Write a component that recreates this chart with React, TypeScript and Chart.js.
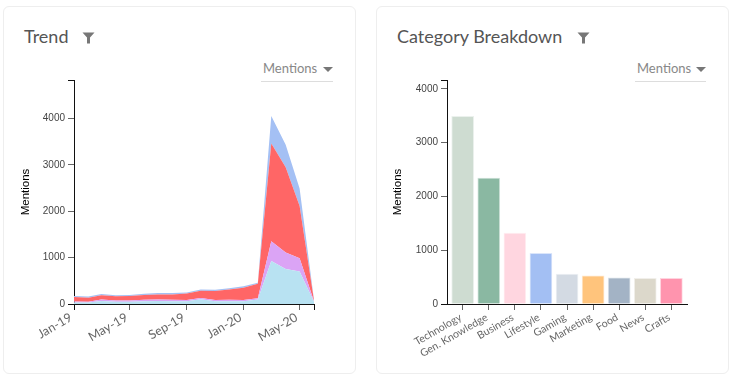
import React, { useEffect, useRef } from "react";
import { Chart, registerables } from "chart.js";

Chart.register(...registerables);

const months = ["Jan-19","Feb-19","Mar-19","Apr-19","May-19","Jun-19","Jul-19","Aug-19","Sep-19","Oct-19","Nov-19","Dec-19","Jan-20","Feb-20","Mar-20","Apr-20","May-20","Jun-20"];
const monthDays = [0,31,59,90,120,151,181,212,243,273,304,334,365,396,425,456,486,517];
const labelledMonths = ["Jan-19","May-19","Sep-19","Jan-20","May-20"];
const seriesLightBlue = [30,30,65,50,50,60,65,60,60,105,60,60,60,95,925,753,703,50];
const seriesPurple = [25,20,30,25,25,30,30,30,25,25,25,30,25,30,430,359,282,10];
const seriesRed = [95,85,95,90,95,105,110,115,140,155,195,220,265,310,2105,1838,1125,15];
const seriesBlue = [25,25,25,25,25,27,30,30,25,30,25,30,30,25,590,480,380,15];

const categories = ["Technology","Gen. Knowledge","Business","Lifestyle","Gaming","Marketing","Food","News","Crafts"];
const categoryValues = [3490,2340,1320,940,555,525,485,478,478];
const categoryColors = ["#cedcd1","#8ab8a2","#ffd6e0","#a3bff3","#d3dae3","#ffc47c","#a3b3c5","#dcd8cb","#ff94ae"];

const yTickValues = [0,1000,2000,3000,4000];
const trendMax = 4828;
const categoryMax = 4165;
const yFont = { family: "'Liberation Sans', Arial, sans-serif", size: 10 };
const yTitleFont = { family: "'Liberation Sans', Arial, sans-serif", size: 11.5 };

function yAxis(max: number, width: number) {
  return {
    min: 0,
    max,
    stacked: true,
    afterBuildTicks: (s: any) => { s.ticks = [...yTickValues, max].map((value) => ({ value })); },
    afterFit: (s: any) => { s.width = width; },
    border: { display: true, color: "#111", width: 1 },
    grid: {
      drawOnChartArea: false,
      tickLength: 6,
      color: (c: any) => (c.tick && (c.tick.value === max || c.tick.value === 0) ? "#111" : "#666"),
    },
    ticks: {
      padding: 3,
      color: "#444",
      font: yFont,
      callback: (v: number) => (v === max ? "" : String(v)),
    },
    title: { display: true, text: "Mentions", color: "#000", font: yTitleFont, padding: { top: 0, bottom: 0 } },
  };
}

function xAxis(min: number, max: number, tickVals: number[], label: (v: number) => string, outer: number[], fontSize: number, labelOffset: number, padding: number) {
  return {
    type: "linear" as const,
    min,
    max,
    offset: false,
    afterBuildTicks: (s: any) => { s.ticks = tickVals.map((value) => ({ value })); },
    afterFit: (s: any) => { s.height = 66; },
    border: { display: true, color: "#111", width: 1 },
    grid: {
      offset: false,
      drawOnChartArea: false,
      tickLength: 6,
      color: (c: any) => (c.tick && outer.includes(c.tick.value) ? "#111" : "#666"),
    },
    ticks: {
      autoSkip: false,
      maxRotation: 30,
      minRotation: 30,
      padding,
      labelOffset,
      color: "#666",
      font: { family: "Lato, sans-serif", size: fontSize },
      callback: (v: number) => label(v),
    },
  };
}

function useChart(build: (c: HTMLCanvasElement) => Chart) {
  const ref = useRef<HTMLCanvasElement>(null);
  useEffect(() => {
    const chart = build(ref.current!);
    return () => chart.destroy();
  }, []);
  return ref;
}

const Filter = ({ left }: { left: number }) => (
  <svg width="13" height="12" viewBox="0 0 13 12" style={{ position: "absolute", left, top: 32 }}>
    <polygon points="0.5,0.5 12.5,0.5 8,5.5 8,11.5 5,11.5 5,5.5" fill="#777" />
  </svg>
);

const Dropdown = ({ left, width }: { left: number; width: number }) => (
  <div style={{ position: "absolute", left, top: 60, width, height: 21, borderBottom: "1px solid #ddd", color: "#888", font: "13px Lato, sans-serif", lineHeight: "17px" }}>
    <span style={{ position: "absolute", left: 2, top: 0 }}>Mentions</span>
    <svg width="10" height="6" style={{ position: "absolute", right: 0, top: 7 }}>
      <polygon points="0,0 10,0 5,5" fill="#777" />
    </svg>
  </div>
);

const cardStyle = (left: number, width: number): React.CSSProperties => ({
  position: "absolute", left, top: 6, width, height: 368, border: "1px solid #eee", borderRadius: 6, boxSizing: "border-box",
});
const titleStyle = (left: number): React.CSSProperties => ({
  position: "absolute", left, top: 25, color: "#555", font: "18px Lato, sans-serif", lineHeight: "22px", whiteSpace: "nowrap",
});
const canvasStyle = (left: number): React.CSSProperties => ({
  position: "absolute", left, top: 70, width: 360, height: 300,
});

export default function App() {
  const trendRef = useChart((canvas) => {
    const pts = (vals: number[]) => vals.map((y, i) => ({ x: monthDays[i], y }));
    const area = (label: string, vals: number[], color: string, fill: any) => ({
      label, data: pts(vals), backgroundColor: color, borderColor: color, borderWidth: 0, pointRadius: 0, tension: 0, fill,
    });
    const tickVals = [0, 120, 243, 365, 486, 517];
    return new Chart(canvas, {
      type: "line",
      data: {
        datasets: [
          area("Light blue", seriesLightBlue, "#b8e2f2", "origin"),
          area("Purple", seriesPurple, "#dba4f5", "-1"),
          area("Red", seriesRed, "#ff6666", "-1"),
          area("Blue", seriesBlue, "#a4c0f4", "-1"),
        ],
      },
      options: {
        animation: false,
        responsive: false,
        maintainAspectRatio: false,
        layout: { padding: { top: 10, right: 46, left: 19, bottom: 0 } },
        plugins: { legend: { display: false }, tooltip: { enabled: false } },
        scales: {
          x: xAxis(0, 517, tickVals, (v) => {
            const m = months[monthDays.indexOf(v)];
            return labelledMonths.includes(m) ? m : "";
          }, [0, 517], 12.5, -3, 0),
          y: yAxis(trendMax, 55),
        },
      } as any,
    });
  });

  const catRef = useChart((canvas) => {
    return new Chart(canvas, {
      type: "bar",
      data: {
        datasets: [{
          label: "Mentions",
          data: categoryValues.map((y, x) => ({ x, y })),
          backgroundColor: categoryColors,
          borderColor: categoryColors.map((c) => c + "66"),
          borderWidth: 1,
          barThickness: 22,
        }],
      },
      options: {
        animation: false,
        responsive: false,
        maintainAspectRatio: false,
        layout: { padding: { top: 10, right: 42, left: 22, bottom: 0 } },
        plugins: { legend: { display: false }, tooltip: { enabled: false } },
        scales: {
          x: xAxis(-0.602, 8.6, categories.map((_, i) => i), (v) => categories[v] ?? "", [], 10.5, -2, 1),
          y: yAxis(categoryMax, 56),
        },
      } as any,
    });
  });

  return (
    <div style={{ position: "absolute", left: 0, top: 0, width: 732, height: 381, background: "#fff", overflow: "hidden" }}>
      <div style={cardStyle(3, 353)} />
      <div style={cardStyle(376, 353)} />
      <div style={titleStyle(24)}>Trend</div>
      <Filter left={82} />
      <div style={titleStyle(397)}>Category Breakdown</div>
      <Filter left={577} />
      <Dropdown left={261} width={72} />
      <Dropdown left={635} width={71} />
      <canvas ref={trendRef} width={360} height={300} style={canvasStyle(0)} />
      <canvas ref={catRef} width={360} height={300} style={canvasStyle(369)} />
    </div>
  );
}
